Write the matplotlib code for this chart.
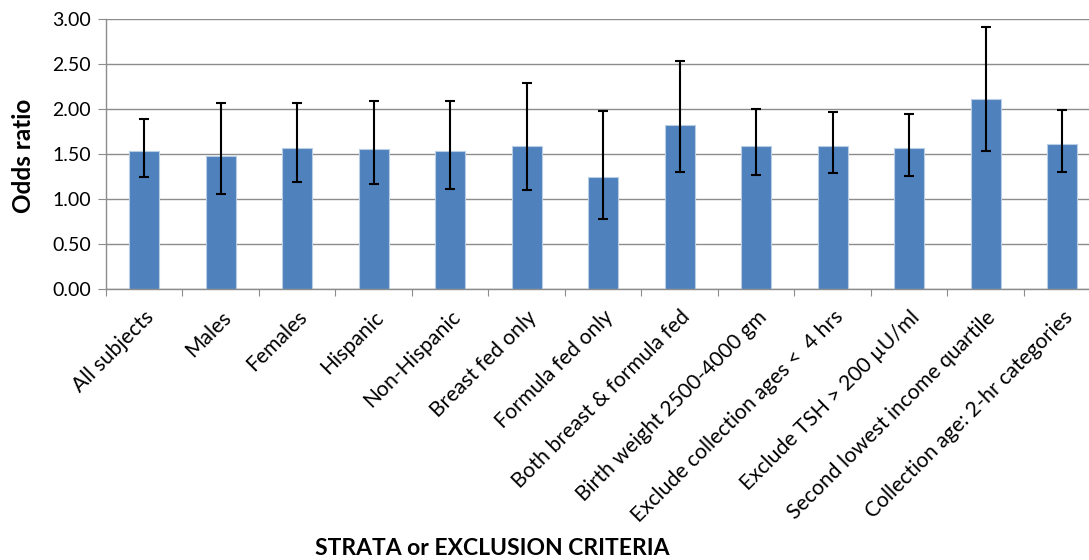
import numpy as np
import matplotlib.pyplot as plt

plt.rcParams['font.family'] = ['Lato', 'DejaVu Sans']

categories = ['All subjects', 'Males', 'Females', 'Hispanic', 'Non-Hispanic',
              'Breast fed only', 'Formula fed only', 'Both breast & formula fed',
              'Birth weight 2500-4000 gm', 'Exclude collection ages <  4 hrs',
              'Exclude TSH > 200 \u00b5U/ml', 'Second lowest income quartile',
              'Collection age: 2-hr categories']
odds = [1.53, 1.48, 1.57, 1.56, 1.53, 1.59, 1.24, 1.82, 1.59, 1.59, 1.57, 2.11, 1.61]
ci_low = [1.24, 1.06, 1.19, 1.17, 1.11, 1.10, 0.78, 1.30, 1.27, 1.29, 1.26, 1.53, 1.30]
ci_high = [1.89, 2.07, 2.07, 2.09, 2.09, 2.29, 1.98, 2.53, 2.00, 1.97, 1.94, 2.91, 1.99]

odds = np.array(odds)
err = [odds - np.array(ci_low), np.array(ci_high) - odds]
x = np.arange(len(categories))

fig = plt.figure(figsize=(10.89, 5.6), dpi=100)
# plot area runs slightly past the right edge of the figure
ax = fig.add_axes([0.0973, 0.484, 0.9132, 0.482])

ax.bar(x, odds, width=0.39, color='#4F81BD', edgecolor='#B9CDE5', linewidth=0.8,
       zorder=2)
ax.errorbar(x, odds, yerr=err, fmt='none', ecolor='black', elinewidth=1.5,
            capsize=3.8, capthick=1.5, zorder=3)

ax.set_xlim(-0.5, len(categories) - 0.5)
ax.set_ylim(0, 3.0)
ax.set_yticks(np.arange(0, 3.01, 0.5))
ax.set_yticklabels([f'{v:.2f}' for v in np.arange(0, 3.01, 0.5)], fontsize=14)
ax.yaxis.grid(True, color='#8C8C8C', linewidth=1.0, zorder=0)
ax.set_axisbelow(True)

# category boundary ticks, labels at centres
ax.set_xticks(np.arange(-0.5, len(categories), 1.0))
ax.set_xticklabels([])
ax.set_xticks(x, minor=True)
ax.set_xticklabels(categories, minor=True, rotation=45, ha='right', va='top',
                   rotation_mode='anchor', fontsize=15.2)
ax.tick_params(axis='x', which='minor', length=0, pad=13)
ax.tick_params(axis='x', which='major', length=5, color='#8C8C8C')
ax.tick_params(axis='y', length=6, color='#8C8C8C', pad=5)

for side in ['top', 'right']:
    ax.spines[side].set_visible(False)
for side in ['left', 'bottom']:
    ax.spines[side].set_color('#8C8C8C')
    ax.spines[side].set_linewidth(1.0)

fig.text(0.022, 0.722, 'Odds ratio', rotation=90, ha='center', va='center',
         fontsize=17.5, fontweight='bold')
fig.text(0.452, 0.021, 'STRATA or EXCLUSION CRITERIA', ha='center', va='center',
         fontsize=16.5, fontweight='bold')

fig.savefig('out.png', dpi=100)
